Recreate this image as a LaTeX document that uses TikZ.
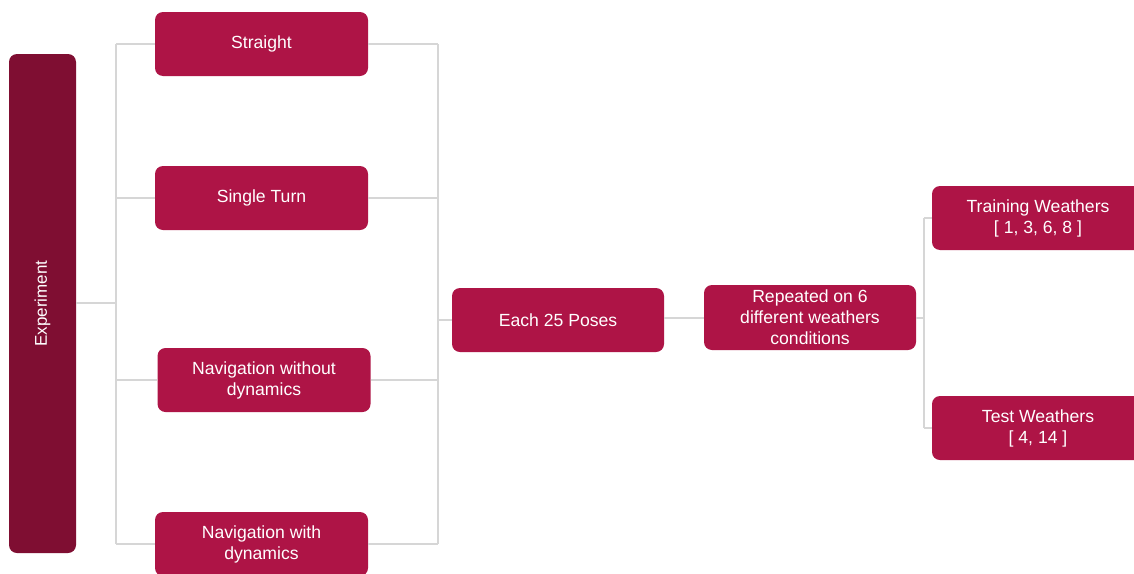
\documentclass[tikz,border=0pt]{standalone}
\usepackage{fontspec}
\setmainfont{Liberation Sans}
\definecolor{boxred}{HTML}{AE1446}
\definecolor{rootred}{HTML}{7F0E32}
\definecolor{linkgray}{HTML}{D6D6D6}
\begin{document}
\begin{tikzpicture}[x=1pt,y=-1pt,
  box/.style={draw=none, fill=boxred, rounded corners=8pt, minimum width=213pt,
    minimum height=64pt, text=white, align=center,
    font=\fontsize{17.6}{21}\selectfont, inner sep=0pt},
  rootbox/.style={draw=none, fill=rootred, rounded corners=8pt, minimum width=67pt,
    minimum height=499pt, inner sep=0pt},
  link/.style={draw=linkgray, line width=1.3pt}]
\clip (0,0) rectangle (1134,573);
\fill[white] (0,0) rectangle (1134,573);

% bracket joints
\coordinate (lb) at (116,303);
\coordinate (rb) at (438,320);
\coordinate (wb) at (924,318);

% root column
\node[rootbox] (exp) at (42.5,303.5) {};
\node[text=white, rotate=90, font=\fontsize{17}{20}\selectfont] (explabel) at (exp.center) {Experiment};

% scenario boxes
\node[box] (straight) at (261.5,44) {Straight};
\node[box] (single) at (261.5,198) {Single Turn};
\node[box] (navwo) at (264,380) {Navigation without\\dynamics};
\node[box] (navw) at (261.5,544) {Navigation with\\dynamics};

% later stages
\node[box, minimum width=212pt] (poses) at (558,320) {Each 25 Poses};
\node[box, minimum width=212pt, minimum height=65pt] (rep) at (810,317.5) {Repeated on 6\\different weathers\\conditions};
\node[box, minimum width=212pt] (train) at (1038,218) {Training Weathers\\{[} 1, 3, 6, 8 {]}};
\node[box, minimum width=212pt] (test) at (1038,428) {Test Weathers\\{[} 4, 14 {]}};

% connectors: root to scenarios
\draw[link] (exp.east |- lb) -- (lb);
\draw[link] (lb |- straight.west) -- (lb |- navw.west);
\foreach \n in {straight,single,navwo,navw}
  \draw[link] (lb |- \n.west) -- (\n.west);
% scenarios to poses
\draw[link] (rb |- straight.east) -- (rb |- navw.east);
\foreach \n in {straight,single,navwo,navw}
  \draw[link] (\n.east) -- (rb |- \n.east);
\draw[link] (rb) -- (poses.west |- rb);
% poses to weather split
\draw[link] (poses.east |- wb) -- (rep.west |- wb);
\draw[link] (rep.east |- wb) -- (wb);
\draw[link] (wb |- train.west) -- (wb |- test.west);
\draw[link] (wb |- train.west) -- (train.west);
\draw[link] (wb |- test.west) -- (test.west);
\end{tikzpicture}
\end{document}
